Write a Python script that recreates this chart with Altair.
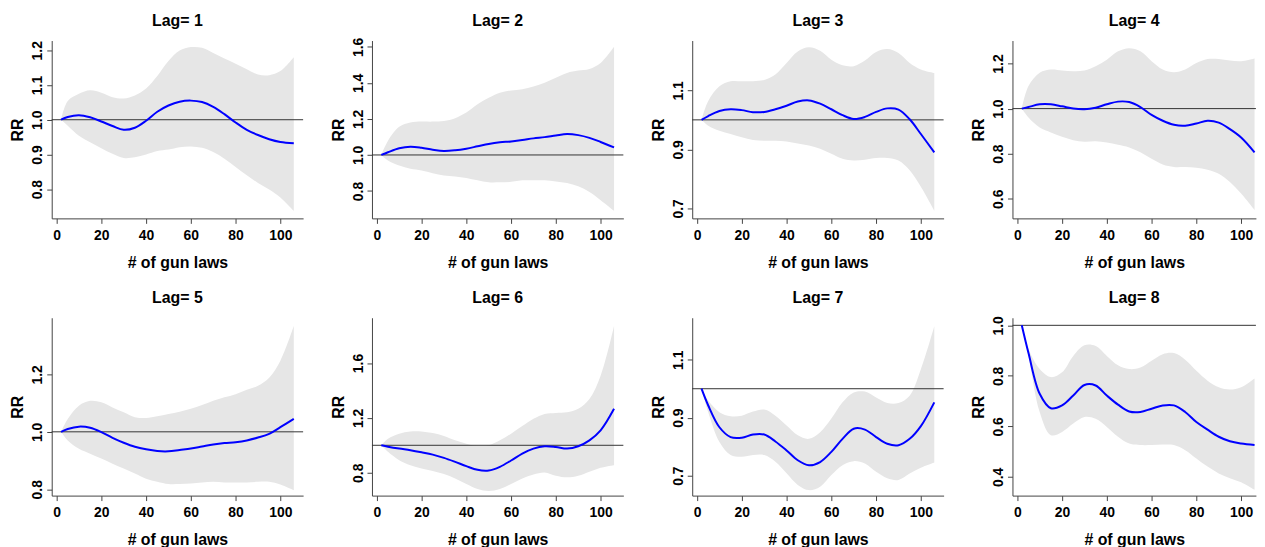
import altair as alt
import pandas as pd

# ---------------- data ----------------
X = [2, 5, 10, 15, 20, 25, 30, 35, 40, 45, 50, 55, 60, 65, 70, 75, 80, 85, 90, 95, 100, 106]

LAGS = [1, 2, 3, 4, 5, 6, 7, 8]

RR1 = [1.000, 1.008, 1.013, 1.007, 0.995, 0.982, 0.971, 0.977, 0.997, 1.023, 1.041, 1.052, 1.055, 1.051, 1.037, 1.016, 0.992, 0.971, 0.956, 0.944, 0.936, 0.932]
HI1 = [1.000, 1.054, 1.075, 1.085, 1.078, 1.065, 1.061, 1.070, 1.090, 1.126, 1.169, 1.199, 1.209, 1.207, 1.192, 1.176, 1.161, 1.145, 1.130, 1.128, 1.140, 1.180]
LO1 = [1.000, 0.983, 0.954, 0.935, 0.918, 0.902, 0.890, 0.892, 0.900, 0.910, 0.914, 0.921, 0.923, 0.919, 0.907, 0.888, 0.864, 0.840, 0.818, 0.799, 0.776, 0.737]

RR2 = [1.000, 1.015, 1.037, 1.046, 1.040, 1.029, 1.022, 1.026, 1.035, 1.048, 1.061, 1.070, 1.075, 1.083, 1.092, 1.099, 1.108, 1.116, 1.110, 1.095, 1.072, 1.042]
HI2 = [1.000, 1.079, 1.156, 1.180, 1.185, 1.185, 1.189, 1.204, 1.235, 1.281, 1.317, 1.345, 1.358, 1.365, 1.380, 1.400, 1.428, 1.455, 1.468, 1.477, 1.510, 1.600]
LO2 = [1.000, 0.969, 0.941, 0.923, 0.914, 0.899, 0.886, 0.881, 0.872, 0.859, 0.848, 0.848, 0.851, 0.859, 0.859, 0.859, 0.853, 0.844, 0.826, 0.794, 0.749, 0.690]

RR3 = [1.000, 1.013, 1.030, 1.036, 1.033, 1.026, 1.027, 1.036, 1.048, 1.062, 1.066, 1.055, 1.036, 1.016, 1.003, 1.010, 1.027, 1.039, 1.035, 1.002, 0.952, 0.890]
HI3 = [1.000, 1.064, 1.114, 1.131, 1.131, 1.131, 1.135, 1.154, 1.193, 1.232, 1.246, 1.234, 1.204, 1.185, 1.182, 1.201, 1.230, 1.240, 1.227, 1.193, 1.171, 1.159]
LO3 = [1.000, 0.980, 0.963, 0.952, 0.941, 0.932, 0.929, 0.929, 0.927, 0.920, 0.913, 0.902, 0.885, 0.868, 0.862, 0.865, 0.871, 0.871, 0.862, 0.829, 0.773, 0.692]

RR4 = [1.000, 1.007, 1.019, 1.019, 1.010, 1.000, 0.997, 1.004, 1.019, 1.031, 1.029, 1.007, 0.972, 0.946, 0.928, 0.924, 0.934, 0.946, 0.938, 0.909, 0.872, 0.806]
HI4 = [1.000, 1.100, 1.159, 1.173, 1.169, 1.166, 1.169, 1.188, 1.217, 1.254, 1.268, 1.254, 1.210, 1.173, 1.161, 1.173, 1.202, 1.220, 1.220, 1.213, 1.210, 1.222]
LO4 = [1.000, 0.960, 0.916, 0.894, 0.875, 0.860, 0.853, 0.855, 0.850, 0.840, 0.828, 0.806, 0.777, 0.752, 0.741, 0.741, 0.738, 0.729, 0.711, 0.674, 0.623, 0.550]

RR5 = [1.000, 1.010, 1.018, 1.014, 0.999, 0.979, 0.962, 0.948, 0.939, 0.933, 0.932, 0.937, 0.942, 0.949, 0.956, 0.961, 0.964, 0.970, 0.980, 0.993, 1.016, 1.045]
HI5 = [1.000, 1.045, 1.091, 1.108, 1.103, 1.085, 1.068, 1.051, 1.048, 1.054, 1.062, 1.070, 1.080, 1.093, 1.108, 1.120, 1.131, 1.146, 1.160, 1.188, 1.247, 1.368]
LO5 = [1.000, 0.970, 0.941, 0.924, 0.907, 0.889, 0.872, 0.855, 0.837, 0.826, 0.818, 0.818, 0.820, 0.824, 0.826, 0.824, 0.824, 0.824, 0.826, 0.826, 0.817, 0.797]

RR6 = [1.000, 0.990, 0.976, 0.964, 0.949, 0.932, 0.908, 0.879, 0.848, 0.821, 0.816, 0.843, 0.889, 0.940, 0.976, 0.993, 0.988, 0.976, 0.993, 1.036, 1.109, 1.266]
HI6 = [1.000, 1.048, 1.085, 1.101, 1.101, 1.089, 1.068, 1.036, 1.012, 0.995, 1.000, 1.036, 1.085, 1.140, 1.193, 1.229, 1.236, 1.241, 1.266, 1.338, 1.507, 1.870]
LO6 = [1.000, 0.952, 0.891, 0.855, 0.831, 0.812, 0.790, 0.758, 0.717, 0.681, 0.667, 0.681, 0.717, 0.758, 0.787, 0.802, 0.778, 0.766, 0.778, 0.807, 0.836, 0.855]

RR7 = [1.000, 0.942, 0.867, 0.833, 0.831, 0.842, 0.842, 0.818, 0.787, 0.753, 0.736, 0.747, 0.782, 0.827, 0.862, 0.859, 0.833, 0.810, 0.805, 0.827, 0.871, 0.953]
HI7 = [1.000, 0.959, 0.919, 0.905, 0.907, 0.921, 0.928, 0.907, 0.873, 0.839, 0.827, 0.850, 0.897, 0.953, 0.987, 0.990, 0.970, 0.951, 0.951, 0.976, 1.067, 1.216]
LO7 = [1.000, 0.919, 0.816, 0.771, 0.765, 0.771, 0.771, 0.748, 0.708, 0.668, 0.650, 0.662, 0.702, 0.736, 0.750, 0.742, 0.713, 0.691, 0.685, 0.707, 0.727, 0.745]

RR8 = [1.000, 0.890, 0.729, 0.672, 0.683, 0.722, 0.764, 0.762, 0.722, 0.686, 0.659, 0.657, 0.670, 0.683, 0.683, 0.657, 0.617, 0.587, 0.559, 0.541, 0.532, 0.526]
HI8 = [1.000, 0.906, 0.827, 0.795, 0.814, 0.879, 0.921, 0.918, 0.879, 0.842, 0.827, 0.833, 0.860, 0.886, 0.890, 0.864, 0.820, 0.781, 0.755, 0.746, 0.755, 0.790]
LO8 = [1.000, 0.879, 0.657, 0.565, 0.578, 0.611, 0.637, 0.630, 0.598, 0.559, 0.532, 0.526, 0.526, 0.528, 0.526, 0.506, 0.473, 0.441, 0.414, 0.395, 0.379, 0.349]

# y-axis ranges, tick positions and labelled ticks per panel
YDOM = [[0.716, 1.228], [0.648, 1.635], [0.666, 1.269], [0.513, 1.302],
        [0.778, 1.397], [0.633, 1.930], [0.631, 1.245], [0.326, 1.030]]
YTICKS = [[0.8, 0.9, 1.0, 1.1, 1.2],
          [0.8, 1.0, 1.2, 1.4, 1.6],
          [0.7, 0.8, 0.9, 1.0, 1.1, 1.2],
          [0.6, 0.8, 1.0, 1.2],
          [0.8, 0.9, 1.0, 1.1, 1.2, 1.3],
          [0.8, 1.0, 1.2, 1.4, 1.6, 1.8],
          [0.7, 0.8, 0.9, 1.0, 1.1, 1.2],
          [0.4, 0.5, 0.6, 0.7, 0.8, 0.9, 1.0]]
YLABELS = [["0.8", "0.9", "1.0", "1.1", "1.2"],
           ["0.8", "1.0", "1.2", "1.4", "1.6"],
           ["0.7", "0.9", "1.1"],
           ["0.6", "0.8", "1.0", "1.2"],
           ["0.8", "1.0", "1.2"],
           ["0.8", "1.2", "1.6"],
           ["0.7", "0.9", "1.1"],
           ["0.4", "0.6", "0.8", "1.0"]]
XDOM = [-2.16, 110.16]
XTICKS = [0, 20, 40, 60, 80, 100]
REF = 1.0

SERIES = [(RR1, LO1, HI1), (RR2, LO2, HI2), (RR3, LO3, HI3), (RR4, LO4, HI4),
          (RR5, LO5, HI5), (RR6, LO6, HI6), (RR7, LO7, HI7), (RR8, LO8, HI8)]

# ---------------- styling / layout ----------------
FONT = "Liberation Sans"
PANEL_W = 253
PANEL_W_LAST = 245        # right-most column is cut by the page edge, as in the reference
PANEL_H = 179
BAND = "#e6e6e6"
LINE = "#0000ff"
TITLE_OFFSET = 12
HALF_LABEL = 9.8          # half the length of a rotated tick label such as "1.6"
INTERP = "catmull-rom"


def panel(i):
    rr, lo, hi = SERIES[i]
    df = pd.DataFrame({"x": X, "rr": rr, "lo": lo, "hi": hi})
    labels = YLABELS[i]
    arr = "[" + ",".join("'" + s + "'" for s in labels) + "]"
    expr = f"indexof({arr}, format(datum.value, '.1f')) >= 0 ? format(datum.value, '.1f') : ''"

    last_col = (i % 4 == 3)
    w = PANEL_W_LAST if last_col else PANEL_W
    xdom = [XDOM[0], XDOM[0] + (XDOM[1] - XDOM[0]) * w / PANEL_W]

    # keep the panel title at the same height even when a tick label pokes above the plot
    lo_d, hi_d = YDOM[i]
    top_label = max(float(s) for s in labels)
    gap = (hi_d - top_label) / (hi_d - lo_d) * PANEL_H
    poke = max(0.0, HALF_LABEL - gap)

    xs = alt.Scale(domain=xdom, nice=False, zero=False)
    ys = alt.Scale(domain=YDOM[i], nice=False, zero=False)
    xax = alt.Axis(values=XTICKS, title="# of gun laws", format="d",
                   labelPadding=5, titlePadding=12)
    yax = alt.Axis(values=YTICKS[i], title="RR", labelExpr=expr,
                   labelAngle=270, labelAlign="center", labelBaseline="bottom",
                   labelPadding=2, titlePadding=5)

    base = alt.Chart(df)
    band = base.mark_area(color=BAND, opacity=1, interpolate=INTERP, clip=True).encode(
        x=alt.X("x:Q", scale=xs, axis=xax),
        y=alt.Y("lo:Q", scale=ys, axis=yax),
        y2="hi:Q",
    )
    ref = alt.Chart(pd.DataFrame({"v": [REF]})).mark_rule(color="#333333", strokeWidth=1).encode(
        y=alt.Y("v:Q", scale=ys)
    )
    line = base.mark_line(color=LINE, strokeWidth=2, interpolate=INTERP, clip=True).encode(
        x=alt.X("x:Q", scale=xs),
        y=alt.Y("rr:Q", scale=ys),
    )
    return alt.layer(band, ref, line).properties(
        width=w, height=PANEL_H,
        title=alt.TitleParams(f"Lag= {LAGS[i]}", anchor="middle", font=FONT,
                              fontSize=16, fontWeight="bold", color="black",
                              offset=TITLE_OFFSET - poke),
    )


chart = alt.concat(*[panel(i) for i in range(8)], columns=4,
                   spacing={"row": 100, "column": 69.3}, bounds="flush").properties(
    padding={"left": 2, "top": 3, "right": 0, "bottom": 0},
    background="white",
).configure_view(stroke=None).configure_axis(
    grid=False, domainColor="#444444", tickColor="#444444", domainWidth=1, tickWidth=1,
    tickSize=5, labelFont=FONT, labelFontSize=14, labelFontWeight="bold", labelColor="black",
    titleFont=FONT, titleFontSize=16, titleFontWeight="bold", titleColor="black",
    labelFlush=False, labelOverlap=False,
)

chart.save("out.html", embed_options={"renderer": "svg", "actions": False})
